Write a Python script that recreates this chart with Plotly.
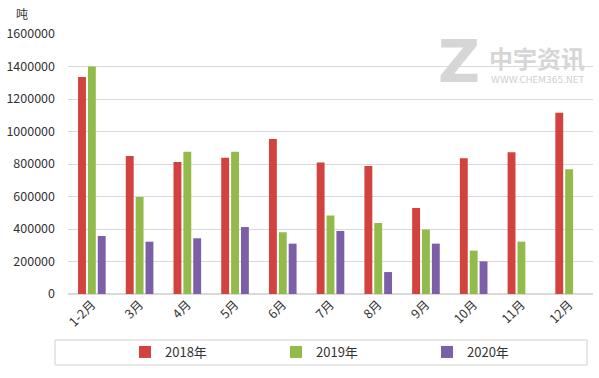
import plotly.graph_objects as go

categories = ["1-2月", "3月", "4月", "5月", "6月", "7月", "8月", "9月", "10月", "11月", "12月"]
series_names = ["2018年", "2019年", "2020年"]
values_2018 = [1335000, 850000, 812000, 838000, 954000, 810000, 787000, 530000, 836000, 873000, 1116000]
values_2019 = [1400000, 597000, 875000, 875000, 380000, 483000, 437000, 396000, 267000, 322000, 767000]
values_2020 = [357000, 322000, 343000, 412000, 310000, 388000, 135000, 310000, 201000, None, None]
colors = ["#d2423f", "#93bb4c", "#7d5fa8"]
y_ticks = [0, 200000, 400000, 600000, 800000, 1000000, 1200000, 1400000, 1600000]

FONT = "Noto Sans CJK SC, Noto Sans, sans-serif"

fig = go.Figure()
for name, vals, c in zip(series_names, [values_2018, values_2019, values_2020], colors):
    fig.add_trace(go.Bar(x=categories, y=vals, name=name, marker=dict(color=c, line=dict(width=0))))

W, H = 599, 378
L, R, T, B = 68, 6, 34, 84
pw, ph = W - L - R, H - T - B

def px(x):
    return (x - L) / pw

def py(y):
    return (H - B - y) / ph

fig.update_layout(
    width=W, height=H,
    margin=dict(l=L, r=R, t=T, b=B, autoexpand=False),
    paper_bgcolor="white", plot_bgcolor="white",
    barmode="group", bargap=0.38, bargroupgap=0.2,
    font=dict(family=FONT, size=12, color="#333333"),
    showlegend=True,
    legend=dict(orientation="h", x=px(125), y=py(352), xanchor="left", yanchor="middle",
                entrywidth=106, entrywidthmode="pixels", itemwidth=30,
                font=dict(size=13, color="#333333"), bgcolor="rgba(0,0,0,0)"),
    xaxis=dict(tickangle=-45, showgrid=False, showline=False, ticks="",
               tickfont=dict(size=12.5, color="#333333")),
    yaxis=dict(range=[0, 1600000], tickvals=y_ticks, tickformat="d",
               showgrid=True, gridcolor="#d9d9d9", gridwidth=1, zeroline=True,
               zerolinecolor="#d9d9d9", ticks="", showline=False, ticklabelstandoff=12,
               tickfont=dict(size=12.5, color="#333333")),
    shapes=[dict(type="rect", xref="paper", yref="paper",
                 x0=px(55), x1=px(587), y0=py(365), y1=py(340),
                 line=dict(color="#d0d0d0", width=1), fillcolor="rgba(0,0,0,0)", layer="below")],
    annotations=[
        dict(text="吨", xref="paper", yref="paper", x=px(22), y=py(13), showarrow=False,
             xanchor="center", yanchor="middle", font=dict(size=12, color="#333333")),
        dict(text="<b>Z</b>", xref="paper", yref="paper", x=px(459), y=py(62), showarrow=False,
             xanchor="center", yanchor="middle", font=dict(size=58, color="#d6d6d6", family="DejaVu Sans")),
        dict(text="<b>中宇资讯</b>", xref="paper", yref="paper", x=px(537), y=py(57), showarrow=False,
             xanchor="center", yanchor="middle", font=dict(size=24, color="#d6d6d6")),
        dict(text="WWW.CHEM365.NET", xref="paper", yref="paper", x=px(537), y=py(80), showarrow=False,
             xanchor="center", yanchor="middle", font=dict(size=9, color="#d0d0d0", family="DejaVu Sans")),
    ],
)

fig.write_html("out.html", config={"displayModeBar": False},
               post_script="document.body.style.margin='0';document.body.style.padding='0';")
